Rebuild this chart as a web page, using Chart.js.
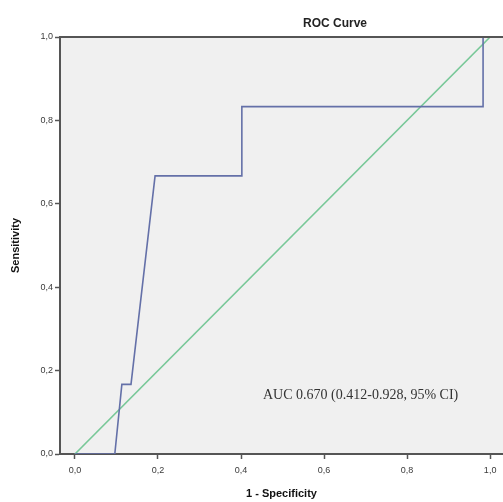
<!DOCTYPE html>
<html>
<head>
<meta charset="utf-8">
<script src="https://cdn.jsdelivr.net/npm/chart.js@4.4.0/dist/chart.umd.min.js"></script>
<style>
  html, body { margin: 0; padding: 0; background: #fff; }
  #wrap { width: 503px; height: 502px; }
</style>
</head>
<body>
<div id="wrap"><canvas id="rocChart" width="503" height="502"></canvas></div>
<script>
// ROC curve points (1 - specificity, sensitivity)
const fpr = [0, 0.096, 0.113, 0.135, 0.193, 0.402, 0.402, 0.983, 0.983, 1];
const tpr = [0, 0, 0.167, 0.167, 0.667, 0.667, 0.833, 0.833, 1, 1];
// reference line
const refX = [0, 1];
const refY = [0, 1];
const xTicks = [0, 0.2, 0.4, 0.6, 0.8, 1.0];
const yTicks = [0, 0.2, 0.4, 0.6, 0.8, 1.0];
const aucText = 'AUC 0.670 (0.412-0.928, 95% CI)';

function toPoints(xs, ys) {
    return xs.map((x, i) => ({ x: x, y: ys[i] }));
}

function commaLabel(v) {
    return Number(v).toFixed(1).replace('.', ',');
}

// plot background, top border, title and AUC note
const extras = {
    id: 'extras',
    beforeDraw(chart) {
        const a = chart.chartArea;
        const ctx = chart.ctx;
        ctx.save();
        ctx.fillStyle = '#f0f0f0';
        ctx.fillRect(a.left, a.top, a.right - a.left, a.bottom - a.top);
        ctx.restore();
    },
    afterDraw(chart) {
        const a = chart.chartArea;
        const ctx = chart.ctx;
        ctx.save();
        ctx.strokeStyle = '#555';
        ctx.lineWidth = 2;
        ctx.beginPath();
        ctx.moveTo(a.left, a.top);
        ctx.lineTo(a.right, a.top);
        ctx.stroke();

        ctx.fillStyle = '#222';
        ctx.font = 'bold 12px "Liberation Sans", Arial, sans-serif';
        ctx.textAlign = 'center';
        ctx.textBaseline = 'middle';
        ctx.fillText('ROC Curve', 335, 24);

        ctx.fillStyle = '#333';
        ctx.font = '14px "Liberation Serif", "Times New Roman", serif';
        ctx.textAlign = 'left';
        ctx.fillText(aucText, 263, 395);
        ctx.restore();
    }
};

const ctx = document.getElementById('rocChart').getContext('2d');
new Chart(ctx, {
    type: 'scatter',
    data: {
        datasets: [
            {
                data: toPoints(fpr, tpr),
                showLine: true,
                borderColor: '#6470a8',
                borderWidth: 1.6,
                pointRadius: 0,
                tension: 0
            },
            {
                data: toPoints(refX, refY),
                showLine: true,
                borderColor: '#78c898',
                borderWidth: 1.6,
                pointRadius: 0,
                tension: 0
            }
        ]
    },
    options: {
        responsive: false,
        animation: false,
        layout: { padding: { top: 37, right: 0, left: 0, bottom: 0 } },
        plugins: {
            legend: { display: false },
            tooltip: { enabled: false },
            title: { display: false }
        },
        scales: {
            x: {
                type: 'linear',
                min: -0.036,
                max: 1.031,
                afterBuildTicks: s => { s.ticks = xTicks.map(v => ({ value: v })); },
                afterFit: s => { s.height = 48; },
                border: { color: '#555', width: 2 },
                grid: { drawOnChartArea: false, tickLength: 5, tickColor: '#555', tickWidth: 1.5 },
                ticks: {
                    callback: v => commaLabel(v),
                    color: '#3a3a3a',
                    font: { size: 9, family: '"Liberation Sans", Arial, sans-serif' },
                    padding: 6,
                    maxRotation: 0
                },
                title: {
                    display: true,
                    text: '1 - Specificity',
                    color: '#111',
                    font: { size: 11, weight: 'bold', family: '"Liberation Sans", Arial, sans-serif' },
                    padding: { top: 8, bottom: 1 }
                }
            },
            y: {
                type: 'linear',
                min: 0,
                max: 1,
                afterBuildTicks: s => { s.ticks = yTicks.map(v => ({ value: v })); },
                afterFit: s => { s.width = 60; },
                border: { color: '#555', width: 2 },
                grid: { drawOnChartArea: false, tickLength: 5, tickColor: '#555', tickWidth: 1.5 },
                ticks: {
                    callback: v => commaLabel(v),
                    color: '#3a3a3a',
                    font: { size: 9, family: '"Liberation Sans", Arial, sans-serif' },
                    padding: 2
                },
                title: {
                    display: true,
                    text: 'Sensitivity',
                    color: '#111',
                    font: { size: 11, weight: 'bold', family: '"Liberation Sans", Arial, sans-serif' },
                    padding: { top: 9, bottom: 4 }
                }
            }
        }
    },
    plugins: [extras]
});
</script>
</body>
</html>
